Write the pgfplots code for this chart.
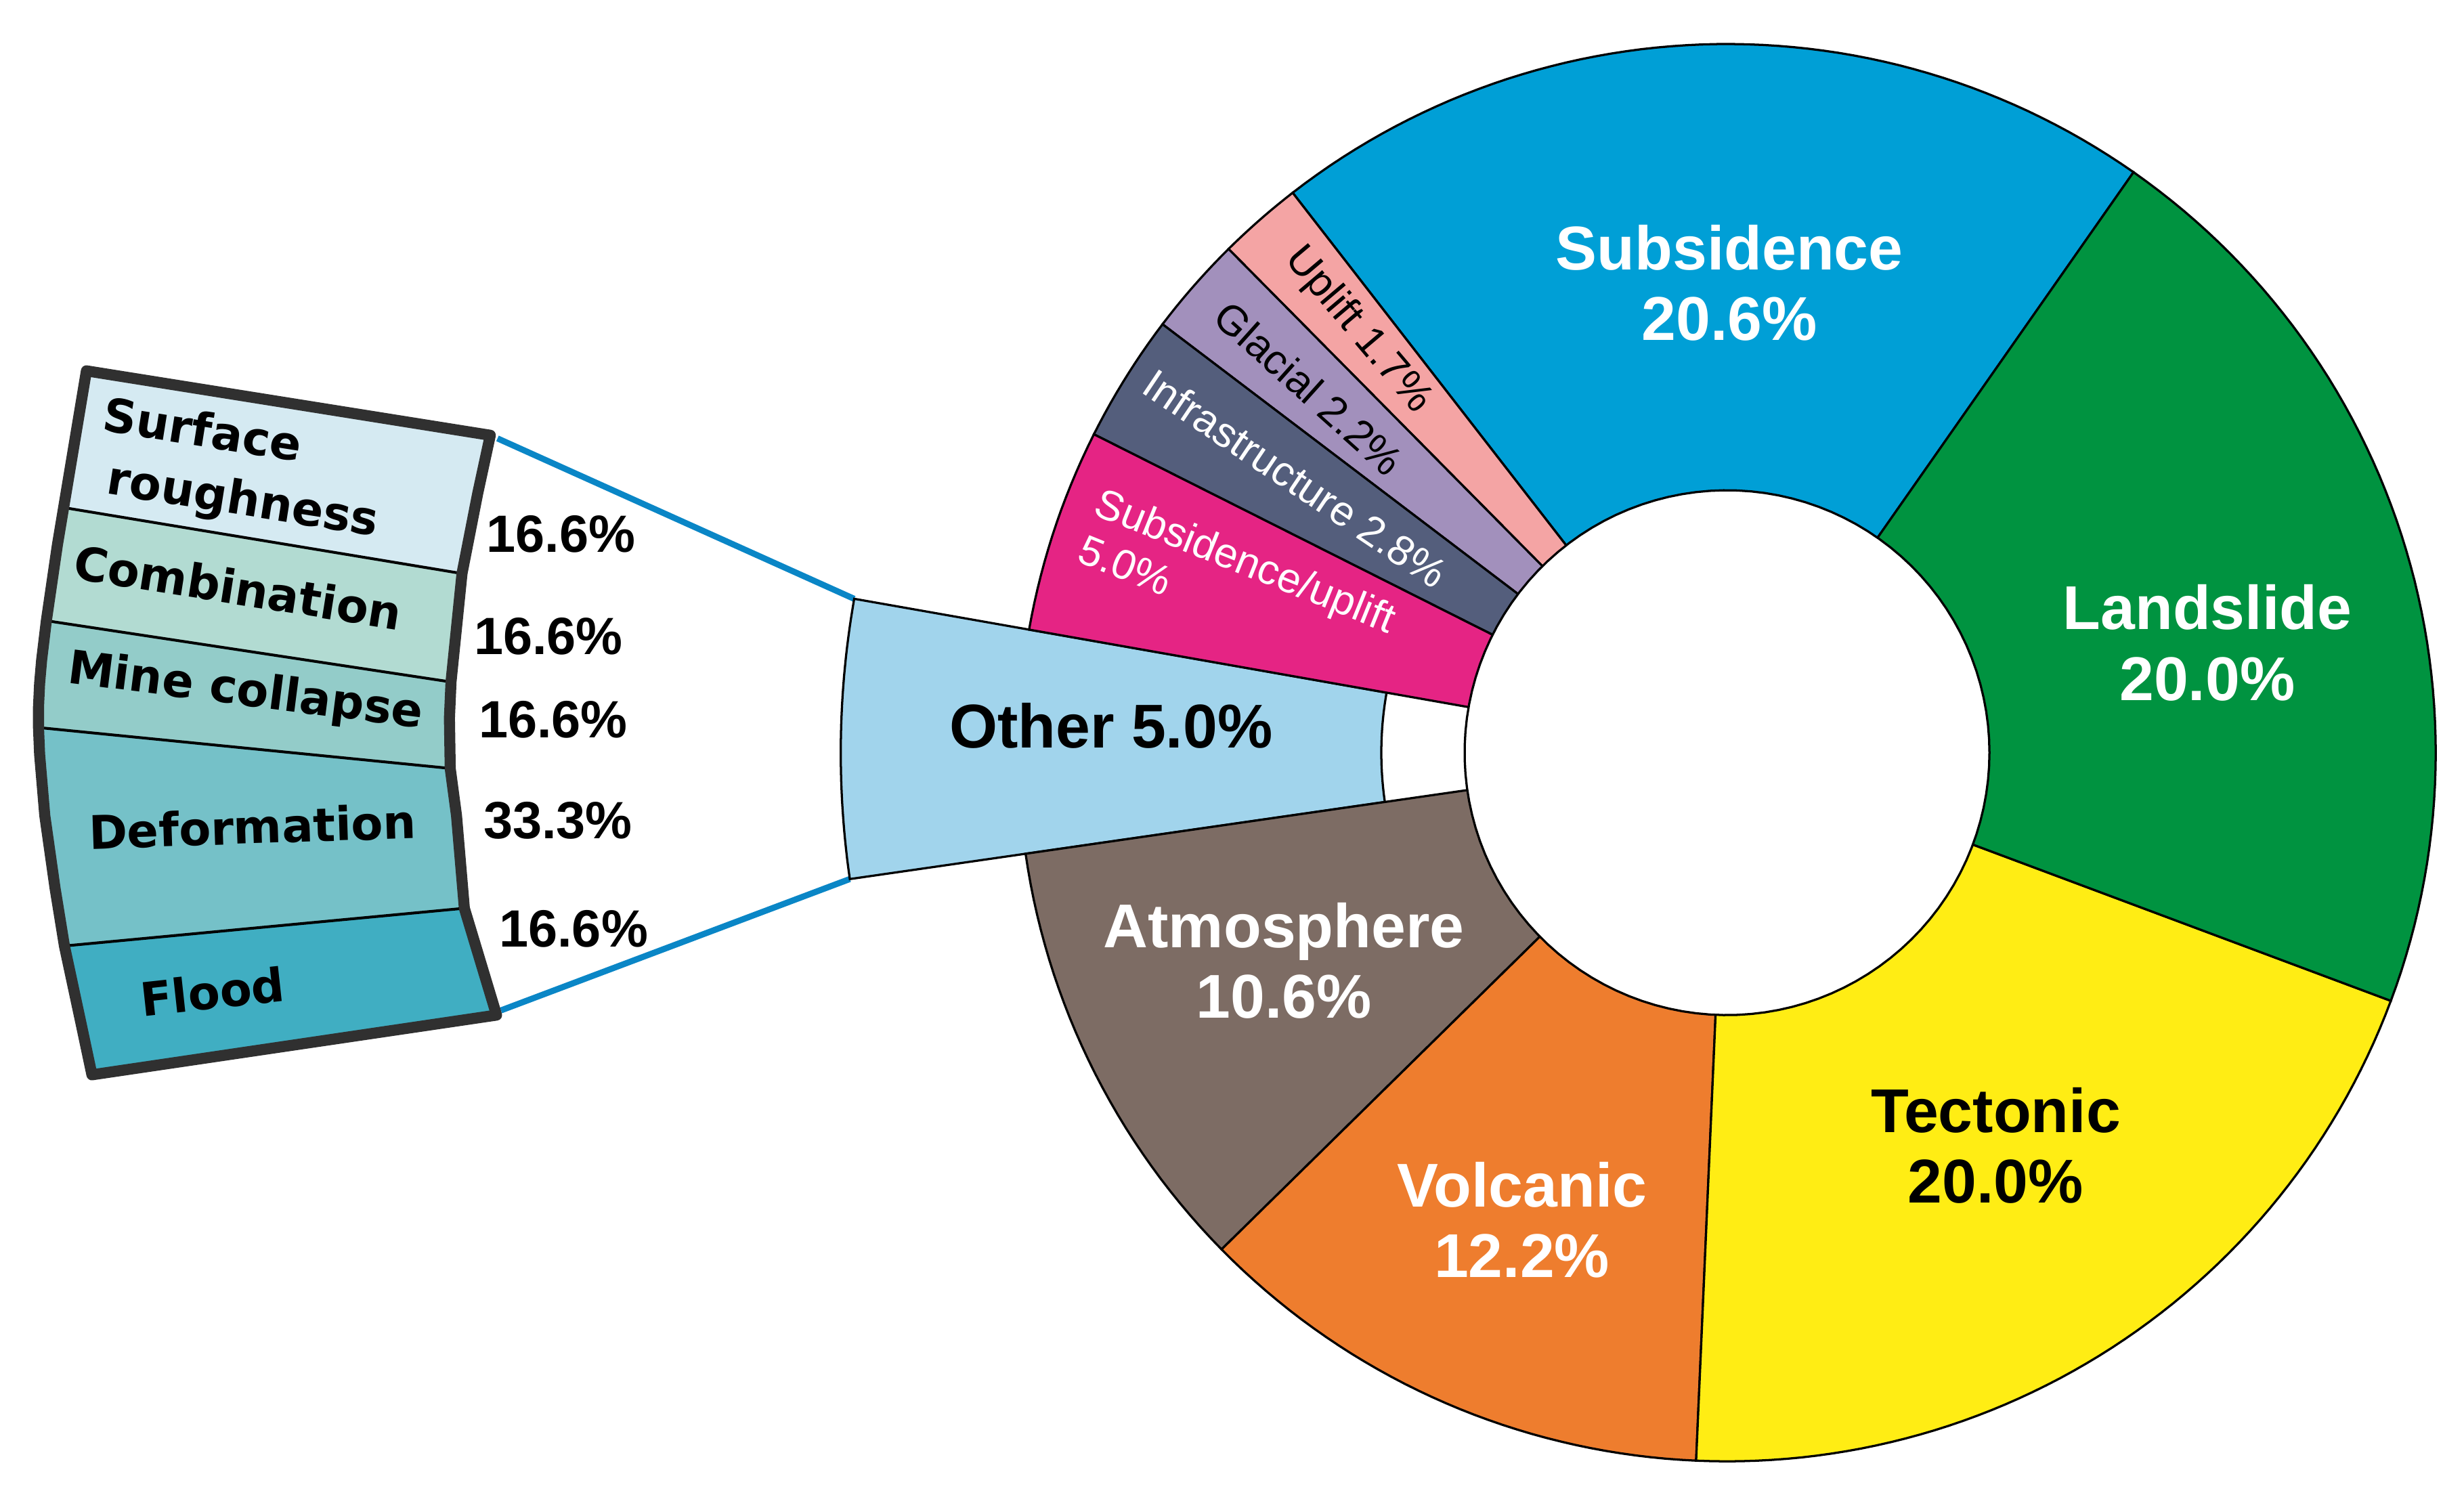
\documentclass[border=0pt]{standalone}
\usepackage{pgfplots}
\pgfplotsset{compat=1.18}
\usepackage{fontspec}
\setmainfont{Liberation Sans}
\newfontfamily\dejavu{DejaVu Sans}

\definecolor{cSub}{RGB}{0,159,214}
\definecolor{cLand}{RGB}{0,147,64}
\definecolor{cTect}{RGB}{255,237,20}
\definecolor{cVolc}{RGB}{238,125,46}
\definecolor{cAtm}{RGB}{125,108,100}
\definecolor{cOther}{RGB}{161,212,236}
\definecolor{cSubUp}{RGB}{229,36,132}
\definecolor{cInfra}{RGB}{84,94,124}
\definecolor{cGlac}{RGB}{162,144,188}
\definecolor{cUpl}{RGB}{244,164,164}
\definecolor{pSurf}{RGB}{213,234,242}
\definecolor{pComb}{RGB}{178,219,210}
\definecolor{pMine}{RGB}{147,204,201}
\definecolor{pDef}{RGB}{117,193,200}
\definecolor{pFlood}{RGB}{64,174,194}
\definecolor{pBorder}{RGB}{48,48,48}
\definecolor{blueline}{RGB}{10,134,198}

\begin{document}
\begin{tikzpicture}
\begin{axis}[
  width=15.68cm, height=9.5cm, scale only axis,
  xmin=0, xmax=1568, ymin=0, ymax=950, y dir=reverse,
  hide axis, clip=false,
]
% keep the full canvas as bounding box
\path (axis cs:0,0) rectangle (axis cs:1568,950);

% connector lines
\addplot[color=blueline, line width=1.1pt] coordinates {(316.6,279) (543.6,381.1)};
\addplot[color=blueline, line width=1.1pt] coordinates {(318.8,643) (540.8,559.4)};

% exploded "Other" slice (170 to 188.2 deg)
\addplot[fill=cOther, draw=black, line width=0.4pt, domain=170:188.2, samples=30]
  ({1099+564*cos(x)},{479-564*sin(x)}) -- (axis cs:1099,479) -- cycle;
\addplot[fill=white, draw=none, domain=169.5:188.7, samples=30]
  ({1099+220*cos(x)},{479-220*sin(x)}) -- (axis cs:1099,479) -- cycle;
\addplot[draw=black, line width=0.4pt, domain=170:188.2, samples=30]
  ({1099+220*cos(x)},{479-220*sin(x)});

% main donut slices
\addplot[fill=cSub, draw=black, line width=0.4pt, domain=55:127.8, samples=60]
  ({1099+451*cos(x)},{479-451*sin(x)}) -- (axis cs:1099,479) -- cycle;
\addplot[fill=cUpl, draw=black, line width=0.4pt, domain=127.8:134.7, samples=10]
  ({1099+451*cos(x)},{479-451*sin(x)}) -- (axis cs:1099,479) -- cycle;
\addplot[fill=cGlac, draw=black, line width=0.4pt, domain=134.7:142.8, samples=10]
  ({1099+451*cos(x)},{479-451*sin(x)}) -- (axis cs:1099,479) -- cycle;
\addplot[fill=cInfra, draw=black, line width=0.4pt, domain=142.8:153.3, samples=12]
  ({1099+451*cos(x)},{479-451*sin(x)}) -- (axis cs:1099,479) -- cycle;
\addplot[fill=cSubUp, draw=black, line width=0.4pt, domain=153.3:170, samples=16]
  ({1099+451*cos(x)},{479-451*sin(x)}) -- (axis cs:1099,479) -- cycle;
\addplot[fill=cAtm, draw=black, line width=0.4pt, domain=188.2:224.5, samples=30]
  ({1099+451*cos(x)},{479-451*sin(x)}) -- (axis cs:1099,479) -- cycle;
\addplot[fill=cVolc, draw=black, line width=0.4pt, domain=224.5:267.5, samples=36]
  ({1099+451*cos(x)},{479-451*sin(x)}) -- (axis cs:1099,479) -- cycle;
\addplot[fill=cTect, draw=black, line width=0.4pt, domain=267.5:339.5, samples=60]
  ({1099+451*cos(x)},{479-451*sin(x)}) -- (axis cs:1099,479) -- cycle;
\addplot[fill=cLand, draw=black, line width=0.4pt, domain=339.5:415, samples=60]
  ({1099+451*cos(x)},{479-451*sin(x)}) -- (axis cs:1099,479) -- cycle;
% hole
\addplot[fill=white, draw=black, line width=0.4pt, domain=0:360, samples=120]
  ({1099+167*cos(x)},{479-167*sin(x)}) -- cycle;

% left panel segments
\addplot[fill=pSurf, draw=none] coordinates {(55,236) (312,277) (304,314) (294,365) (40.5,323) (47.5,281)} -- cycle;
\addplot[fill=pComb, draw=none] coordinates {(40.5,323) (294,365) (287,434) (29.5,395) (36.5,347)} -- cycle;
\addplot[fill=pMine, draw=none] coordinates {(29.5,395) (287,434) (286,457) (286.5,489) (24.5,463) (24.5,450) (25.2,435) (26.5,420)} -- cycle;
\addplot[fill=pDef, draw=none] coordinates {(24.5,463) (286.5,489) (290.5,519) (295.5,578) (41,602) (35,565) (28.5,519) (25.2,480)} -- cycle;
\addplot[fill=pFlood, draw=none] coordinates {(41,602) (295.5,578) (316,646) (58.5,684) (51.5,651)} -- cycle;
\addplot[black, line width=0.5pt] coordinates {(40.5,323) (294,365)};
\addplot[black, line width=0.5pt] coordinates {(29.5,395) (287,434)};
\addplot[black, line width=0.5pt] coordinates {(24.5,463) (286.5,489)};
\addplot[black, line width=0.5pt] coordinates {(41,602) (295.5,578)};
\addplot[draw=pBorder, line width=2pt, line join=round] coordinates {(55,236) (312,277) (304,314) (294,365) (287,434) (286,457) (286.5,489) (290.5,519) (295.5,578) (316,646) (58.5,684) (51.5,651) (41,602) (35,565) (28.5,519) (25.2,480) (24.5,463) (24.5,450) (25.2,435) (26.5,420) (29.5,395) (36.5,347) (40.5,323) (47.5,281)} -- cycle;

% panel labels
\node[font=\dejavu\bfseries\fontsize{8.4}{10}\selectfont, rotate=-9] at (axis cs:129,273) {Surface};
\node[font=\dejavu\bfseries\fontsize{8.4}{10}\selectfont, rotate=-9] at (axis cs:154.3,319.8) {roughness};
\node[font=\dejavu\bfseries\fontsize{8.4}{10}\selectfont, rotate=-9] at (axis cs:151.5,373.7) {Combination};
\node[font=\dejavu\bfseries\fontsize{8.4}{10}\selectfont, rotate=-7.3] at (axis cs:156.1,440.8) {Mine collapse};
\node[font=\dejavu\bfseries\fontsize{8.4}{10}\selectfont, rotate=1.9] at (axis cs:160.7,525.9) {Deformation};
\node[font=\dejavu\bfseries\fontsize{8.4}{10}\selectfont, rotate=6.2] at (axis cs:135.2,631) {Flood};

% panel percentages
\node[font=\bfseries\fontsize{9.5}{11}\selectfont] at (axis cs:357,340) {16.6\%};
\node[font=\bfseries\fontsize{9.5}{11}\selectfont] at (axis cs:349,405) {16.6\%};
\node[font=\bfseries\fontsize{9.5}{11}\selectfont] at (axis cs:352,458) {16.6\%};
\node[font=\bfseries\fontsize{9.5}{11}\selectfont] at (axis cs:355,522) {33.3\%};
\node[font=\bfseries\fontsize{9.5}{11}\selectfont] at (axis cs:365,591) {16.6\%};

% donut labels
\node[font=\bfseries\fontsize{11.2}{12.8}\selectfont, text=white, align=center] at (axis cs:1100.5,180) {Subsidence\\20.6\%};
\node[font=\bfseries\fontsize{11.2}{12.8}\selectfont, text=white, align=center] at (axis cs:1404.6,409) {Landslide\\20.0\%};
\node[font=\bfseries\fontsize{11.2}{12.8}\selectfont, text=black, align=center] at (axis cs:1270,729) {Tectonic\\20.0\%};
\node[font=\bfseries\fontsize{11.2}{12.8}\selectfont, text=white, align=center] at (axis cs:968.5,776.4) {Volcanic\\12.2\%};
\node[font=\bfseries\fontsize{11.2}{12.8}\selectfont, text=white, align=center] at (axis cs:817,611.5) {Atmosphere\\10.6\%};
\node[font=\bfseries\fontsize{11.2}{12.8}\selectfont, text=black] at (axis cs:707,462) {Other 5.0\%};

% small slice labels
\node[font=\fontsize{7.6}{9}\selectfont, text=black, rotate=-49.8] at (axis cs:864,210) {Uplift 1.7\%};
\node[font=\fontsize{7.6}{9}\selectfont, text=black, rotate=-41.9] at (axis cs:833,247) {Glacial 2.2\%};
\node[font=\fontsize{7.6}{9}\selectfont, text=white, rotate=-33.9] at (axis cs:824.4,304.5) {Infrastructure 2.8\%};
\node[font=\fontsize{7.6}{9}\selectfont, text=white, rotate=-22] at (axis cs:791.9,358.8) {Subsidence/uplift};
\node[font=\fontsize{7.6}{9}\selectfont, text=white, rotate=-22] at (axis cs:716,359.9) {5.0\%};
\end{axis}
\end{tikzpicture}
\end{document}
